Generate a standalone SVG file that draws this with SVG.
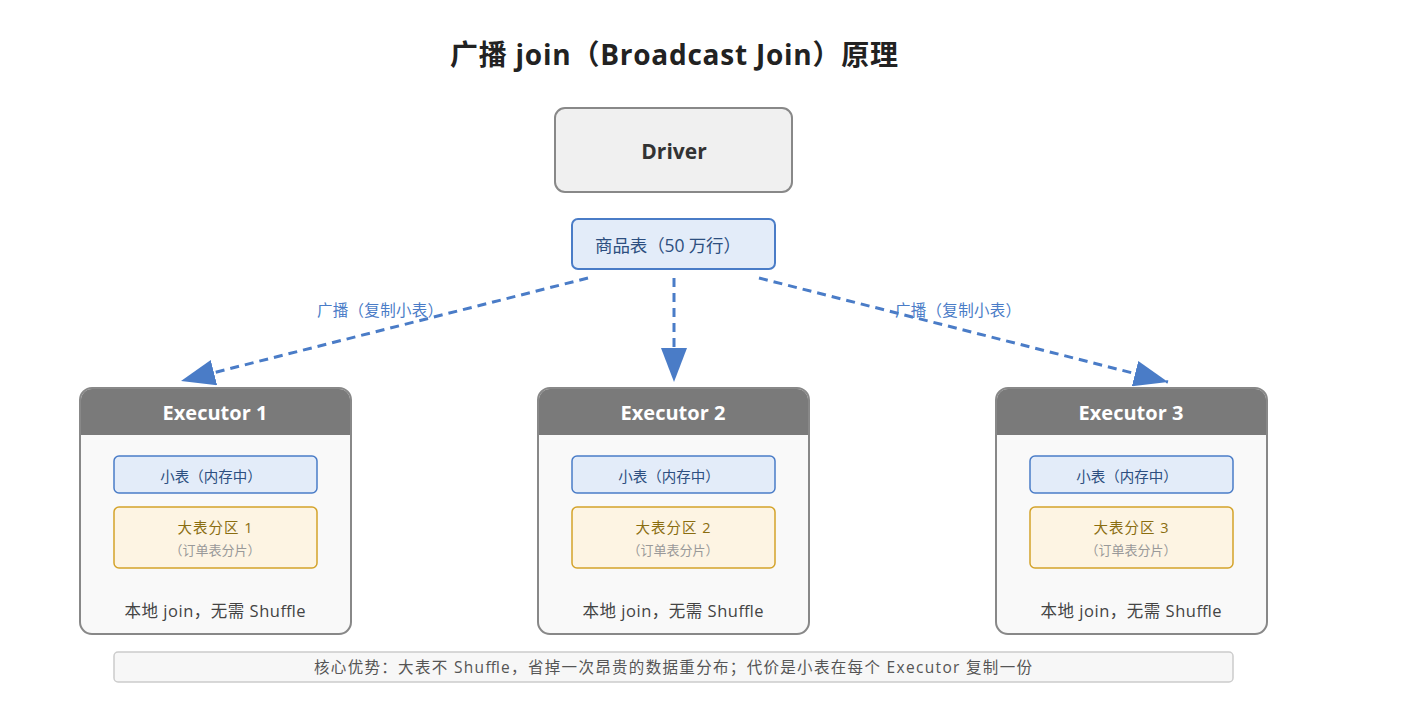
<svg xmlns="http://www.w3.org/2000/svg" width="1411" height="707" viewBox="0 0 1411 707">
<style>
text{font-family:"Open Sans","Noto Sans CJK SC",sans-serif;text-anchor:middle}
.title{font-size:28px;font-weight:bold;fill:#222}
.drv{fill:#f0f0f0;stroke:#888;stroke-width:2}
.drvt{font-size:21px;font-weight:bold;fill:#333}
.blue{fill:#e3ecf9;stroke:#4a7cc7;stroke-width:2}
.bluet{font-size:17.5px;fill:#2d4f80}
.conn{stroke:#4a7cc7;stroke-width:3;stroke-dasharray:9 6;fill:none}
.lbl{font-size:15.5px;fill:#4a7cc7}
.exb{fill:#f9f9f9;stroke:#888;stroke-width:2}
.exh{fill:#7a7a7a}
.ext{font-size:20px;font-weight:bold;fill:#fff}
.small{fill:#e3ecf9;stroke:#4a7cc7;stroke-width:1.5}
.smallt{font-size:14.5px;fill:#2d4f80}
.big{fill:#fdf4e3;stroke:#d4a32a;stroke-width:1.5}
.bigt{font-size:14.5px;fill:#8a6d10}
.bigs{font-size:13px;fill:#999}
.loc{font-size:16.5px;fill:#444}
.foot{fill:#f7f7f7;stroke:#ccc;stroke-width:1.5}
.foott{font-size:15.5px;fill:#555}
</style>
<defs>
<marker id="arr" markerUnits="userSpaceOnUse" markerWidth="36" markerHeight="26" refX="34" refY="13" orient="auto">
<path d="M0,0 L34,13 L0,26 Z" fill="#4a7cc7"/>
</marker>
</defs>
<rect width="1411" height="707" fill="#fff"/>
<text class="title" x="674" y="65" textLength="448">广播 join（Broadcast Join）原理</text>
<g id="driver">
<rect class="drv" x="555" y="108" width="237" height="84" rx="10"/>
<text class="drvt" x="674" y="159">Driver</text>
</g>
<g id="goods">
<rect class="blue" x="572" y="219" width="203" height="50" rx="6"/>
<text class="bluet" x="668" y="252" textLength="146">商品表（50 万行）</text>
</g>
<g id="connectors">
<line class="conn" x1="588" y1="278" x2="181" y2="381" marker-end="url(#arr)"/>
<line class="conn" x1="674" y1="278" x2="674" y2="382" marker-end="url(#arr)"/>
<line class="conn" x1="759" y1="278" x2="1168" y2="382" marker-end="url(#arr)"/>
<text class="lbl" x="380" y="316" textLength="126">广播（复制小表）</text>
<text class="lbl" x="958" y="316" textLength="126">广播（复制小表）</text>
</g>
<g id="executor1">
<rect class="exb" x="80" y="388" width="271" height="246" rx="12"/>
<path class="exh" d="M81,435 V400 A11,11 0 0 1 92,389 H339 A11,11 0 0 1 350,400 V435 Z"/>
<text class="ext" x="215" y="420">Executor 1</text>
<rect class="small" x="114" y="456" width="203" height="37" rx="5"/>
<text class="smallt" x="211" y="482">小表（内存中）</text>
<rect class="big" x="114" y="507" width="203" height="61" rx="5"/>
<text class="bigt" x="215" y="533" textLength="75">大表分区 1</text>
<text class="bigs" x="215" y="555">（订单表分片）</text>
<text class="loc" x="215" y="617" textLength="181">本地 join，无需 Shuffle</text>
</g>
<g id="executor2">
<rect class="exb" x="538" y="388" width="271" height="246" rx="12"/>
<path class="exh" d="M539,435 V400 A11,11 0 0 1 550,389 H797 A11,11 0 0 1 808,400 V435 Z"/>
<text class="ext" x="673" y="420">Executor 2</text>
<rect class="small" x="572" y="456" width="203" height="37" rx="5"/>
<text class="smallt" x="669" y="482">小表（内存中）</text>
<rect class="big" x="572" y="507" width="203" height="61" rx="5"/>
<text class="bigt" x="673" y="533" textLength="75">大表分区 2</text>
<text class="bigs" x="673" y="555">（订单表分片）</text>
<text class="loc" x="673" y="617" textLength="181">本地 join，无需 Shuffle</text>
</g>
<g id="executor3">
<rect class="exb" x="996" y="388" width="271" height="246" rx="12"/>
<path class="exh" d="M997,435 V400 A11,11 0 0 1 1008,389 H1255 A11,11 0 0 1 1266,400 V435 Z"/>
<text class="ext" x="1131" y="420">Executor 3</text>
<rect class="small" x="1030" y="456" width="203" height="37" rx="5"/>
<text class="smallt" x="1127" y="482">小表（内存中）</text>
<rect class="big" x="1030" y="507" width="203" height="61" rx="5"/>
<text class="bigt" x="1131" y="533" textLength="75">大表分区 3</text>
<text class="bigs" x="1131" y="555">（订单表分片）</text>
<text class="loc" x="1131" y="617" textLength="181">本地 join，无需 Shuffle</text>
</g>
<g id="footer">
<rect class="foot" x="114" y="652" width="1119" height="30" rx="4"/>
<text class="foott" x="673" y="673" textLength="718">核心优势：大表不 Shuffle，省掉一次昂贵的数据重分布；代价是小表在每个 Executor 复制一份</text>
</g>
</svg>
